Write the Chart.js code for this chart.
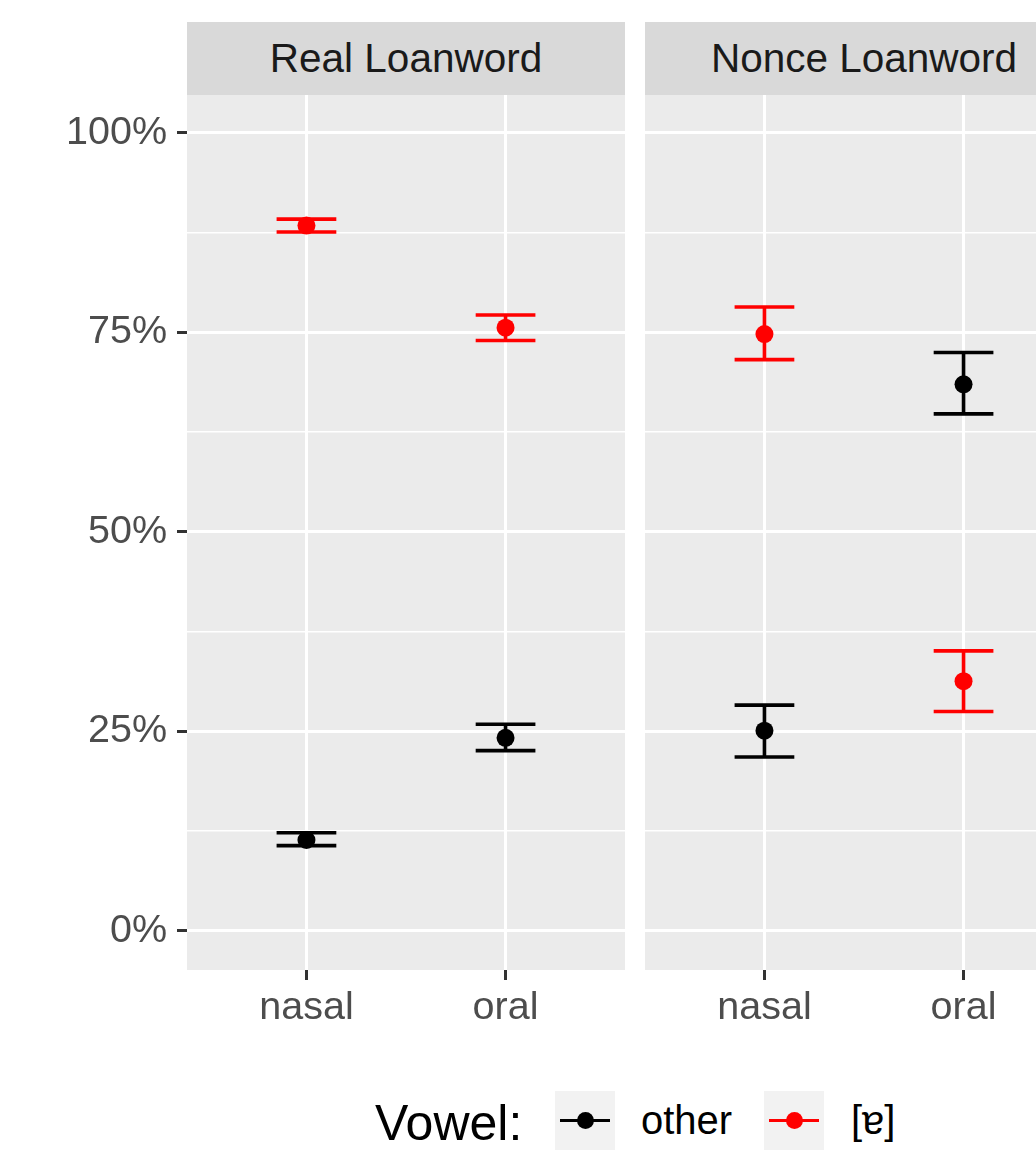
<!DOCTYPE html>
<html lang="en">
  <head>
    <meta charset="UTF-8" />
    <title>Vowel by syllable type</title>
    <style>
      body { margin: 0; background: #ffffff; font-family: "Liberation Sans", Arial, sans-serif; }
      .page { position: relative; width: 1036px; height: 1153px; overflow: hidden; }
      .strip {
        position: absolute; top: 22px; width: 438px; height: 73px;
        background: #d9d9d9; color: #1a1a1a; font-size: 40.5px; line-height: 73px; text-align: center;
      }
      .chartBox { position: absolute; top: 95px; }
      .lbl { position: absolute; line-height: 1; white-space: nowrap; color: #000000; }
      .key { position: absolute; top: 1091px; width: 60px; height: 59px; background: #f2f2f2; }
      .key .ln { position: absolute; left: 5px; width: 50px; top: 28px; height: 3px; }
      .key .pt { position: absolute; left: 21.5px; top: 21px; width: 17px; height: 17px; border-radius: 50%; }
    </style>
  </head>
  <body>
    <div class="page">
      <div class="strip" style="left: 187px">Real Loanword</div>
      <div class="strip" style="left: 645px">Nonce Loanword</div>
      <div class="chartBox" style="left: 0px"><canvas id="realChart" width="625" height="960"></canvas></div>
      <div class="chartBox" style="left: 645px"><canvas id="nonceChart" width="438" height="960"></canvas></div>

      <span class="lbl" style="left: 375px; top: 1098px; font-size: 50px">Vowel:</span>
      <div class="key" style="left: 555px"><div class="ln" style="background: #000000"></div><div class="pt" style="background: #000000"></div></div>
      <span class="lbl" style="left: 641px; top: 1100px; font-size: 40px">other</span>
      <div class="key" style="left: 764px"><div class="ln" style="background: #ff0000"></div><div class="pt" style="background: #ff0000"></div></div>
      <span class="lbl" style="left: 851px; top: 1100px; font-size: 40px">[ɐ]</span>
    </div>

    <script src="https://cdn.jsdelivr.net/npm/chart.js"></script>
    <script>
      const categories = ["nasal", "oral"];
      const seriesNames = ["other", "[ɐ]"];
      const seriesColors = ["#000000", "#ff0000"];

      // percentages (point, lower, upper)
      const realOther = [11.4, 24.2];
      const realOtherLo = [10.7, 22.6];
      const realOtherHi = [12.3, 25.9];
      const realA = [88.4, 75.6];
      const realALo = [87.6, 74.0];
      const realAHi = [89.2, 77.2];

      const nonceOther = [25.1, 68.5];
      const nonceOtherLo = [21.8, 64.8];
      const nonceOtherHi = [28.3, 72.5];
      const nonceA = [74.8, 31.3];
      const nonceALo = [71.6, 27.5];
      const nonceAHi = [78.2, 35.1];

      const yMin = -4.89;
      const yMax = 104.76;
      const fontFamily = '"Liberation Sans", Arial, sans-serif';

      const panelBg = {
        id: "panelBg",
        beforeDraw(chart) {
          const a = chart.chartArea;
          const c = chart.ctx;
          c.save();
          c.fillStyle = "#ebebeb";
          c.fillRect(a.left, a.top, a.right - a.left, a.bottom - a.top);
          c.restore();
        },
      };

      const errorBars = {
        id: "errorBars",
        beforeDatasetsDraw(chart) {
          const c = chart.ctx;
          const xs = chart.scales.x;
          const ys = chart.scales.y;
          const half = xs.getPixelForValue(1.15) - xs.getPixelForValue(1);
          chart.data.datasets.forEach((ds) => {
            c.save();
            c.strokeStyle = ds.backgroundColor;
            c.lineWidth = 3.6;
            ds.data.forEach((p, i) => {
              const x = xs.getPixelForValue(p.x);
              const yl = ys.getPixelForValue(ds.lo[i]);
              const yh = ys.getPixelForValue(ds.hi[i]);
              c.beginPath();
              c.moveTo(x, yl);
              c.lineTo(x, yh);
              c.moveTo(x - half, yl);
              c.lineTo(x + half, yl);
              c.moveTo(x - half, yh);
              c.lineTo(x + half, yh);
              c.stroke();
            });
            c.restore();
          });
        },
      };

      function makeSet(i, vals, lo, hi) {
        return {
          label: seriesNames[i],
          data: vals.map((v, k) => ({ x: k + 1, y: v })),
          lo: lo,
          hi: hi,
          backgroundColor: seriesColors[i],
          borderWidth: 0,
          pointRadius: 9,
          pointHoverRadius: 9,
        };
      }

      function makePanel(id, showY, other, otherLo, otherHi, a, aLo, aHi) {
        const isMajor = (v) => Math.abs(v % 25) < 1e-6;
        return new Chart(document.getElementById(id), {
          type: "scatter",
          data: {
            datasets: [makeSet(0, other, otherLo, otherHi), makeSet(1, a, aLo, aHi)],
          },
          options: {
            responsive: false,
            animation: false,
            layout: { padding: 0, autoPadding: false },
            plugins: { legend: { display: false }, tooltip: { enabled: false } },
            scales: {
              x: {
                type: "linear",
                min: 0.4,
                max: 2.6,
                afterBuildTicks: (s) => {
                  s.ticks = categories.map((c, i) => ({ value: i + 1 }));
                },
                afterFit: (s) => {
                  s.height = 85;
                  s.paddingLeft = 0;
                  s.paddingRight = 0;
                },
                border: { display: false },
                grid: { color: "#ffffff", lineWidth: 3, tickColor: "#333333", tickLength: 10, tickWidth: 3 },
                ticks: {
                  padding: 4,
                  color: "#4d4d4d",
                  autoSkip: false,
                  maxRotation: 0,
                  font: { size: 39.5, family: fontFamily },
                  callback: (v) => categories[v - 1],
                },
              },
              y: {
                min: yMin,
                max: yMax,
                afterFit: (s) => {
                  s.width = showY ? 187 : 0;
                  s.paddingTop = 0;
                  s.paddingBottom = 0;
                },
                border: { display: false },
                grid: {
                  color: "#ffffff",
                  lineWidth: (c) => (c.tick && isMajor(c.tick.value) ? 3 : 1.5),
                  tickColor: (c) => (showY && c.tick && isMajor(c.tick.value) ? "#333333" : "rgba(0,0,0,0)"),
                  tickLength: 10,
                  tickWidth: 3,
                  drawTicks: showY,
                },
                ticks: {
                  display: showY,
                  stepSize: 12.5,
                  includeBounds: false,
                  autoSkip: false,
                  padding: 10,
                  color: "#4d4d4d",
                  font: { size: 39.5, family: fontFamily },
                  callback: (v) => (isMajor(v) ? v + "%" : ""),
                },
              },
            },
          },
          plugins: [panelBg, errorBars],
        });
      }

      makePanel("realChart", true, realOther, realOtherLo, realOtherHi, realA, realALo, realAHi);
      makePanel("nonceChart", false, nonceOther, nonceOtherLo, nonceOtherHi, nonceA, nonceALo, nonceAHi);
    </script>
  </body>
</html>
